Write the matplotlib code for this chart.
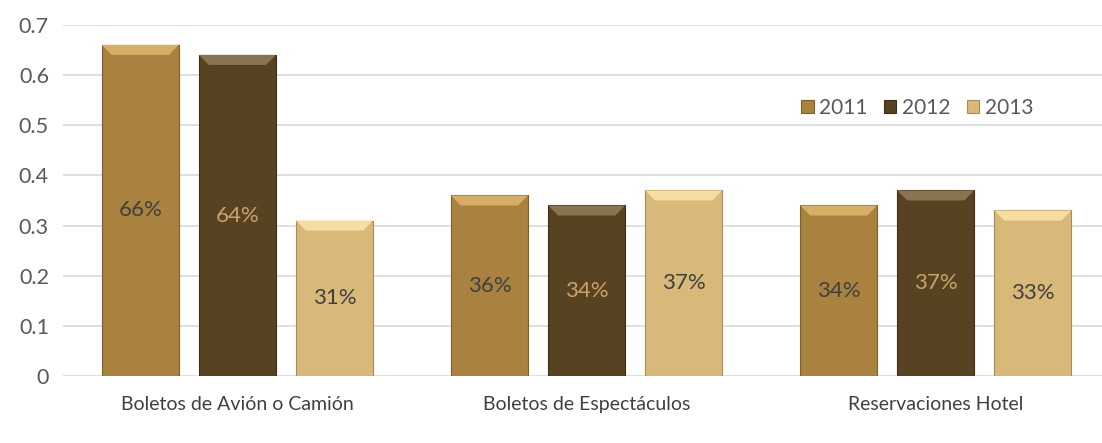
import numpy as np
import matplotlib.pyplot as plt
from matplotlib.patches import Polygon

plt.rcParams['font.family'] = ['Lato', 'DejaVu Sans']

categorias = ['Boletos de Avión o Camión', 'Boletos de Espectáculos', 'Reservaciones Hotel']
anios = ['2011', '2012', '2013']
valores = [
    [0.66, 0.36, 0.34],   # 2011
    [0.64, 0.34, 0.37],   # 2012
    [0.31, 0.37, 0.33],   # 2013
]

colores = ['#A8823E', '#574221', '#D9B97A']
colores_bisel = ['#D6AE66', '#8A7350', '#F6DEA2']
colores_borde = ['#7E6028', '#3C2D14', '#A98C55']
colores_texto = ['#404040', '#C9A468', '#404040']

fig = plt.figure(figsize=(11.02, 4.43), dpi=100)
ax = fig.add_axes([0.057, 0.151, 0.943, 0.793])

x = np.arange(len(categorias))
ancho = 0.22
paso = 0.278
bisel_h = 0.02
bisel_w = 0.028

for i, anio in enumerate(anios):
    pos = x + (i - 1) * paso
    ax.bar(pos, valores[i], ancho, color=colores[i], edgecolor=colores_borde[i],
           linewidth=0.8, label=anio, zorder=3)
    for p, v in zip(pos, valores[i]):
        # bisel superior
        tri = Polygon([[p - ancho / 2, v], [p + ancho / 2, v],
                       [p + ancho / 2 - bisel_w, v - bisel_h],
                       [p - ancho / 2 + bisel_w, v - bisel_h]],
                      closed=True, facecolor=colores_bisel[i], edgecolor='none', zorder=4)
        ax.add_patch(tri)
        ax.text(p, v / 2, f'{round(v * 100)}%', ha='center', va='center',
                fontsize=16, color=colores_texto[i], zorder=5)

ax.set_xlim(-0.5, 2.476)
ax.set_ylim(0, 0.7)
ax.set_yticks(np.arange(0, 0.71, 0.1))
ax.set_yticklabels(['0', '0.1', '0.2', '0.3', '0.4', '0.5', '0.6', '0.7'])
ax.set_xticks(x)
ax.set_xticklabels(categorias)
ax.tick_params(axis='y', length=0, labelsize=15.5, labelcolor='#595959', pad=10)
ax.tick_params(axis='x', length=0, labelsize=14, labelcolor='#404040', pad=14)
ax.grid(axis='y', color='#D9D9D9', linewidth=1.2, zorder=0)
for s in ax.spines.values():
    s.set_visible(False)

ax.legend(loc='center', bbox_to_anchor=(0.822, 0.763), ncol=3, frameon=False,
          fontsize=15, handlelength=0.6, handleheight=0.6, handletextpad=0.25,
          columnspacing=0.8, labelcolor='#595959')

fig.savefig('out.png', dpi=100)
